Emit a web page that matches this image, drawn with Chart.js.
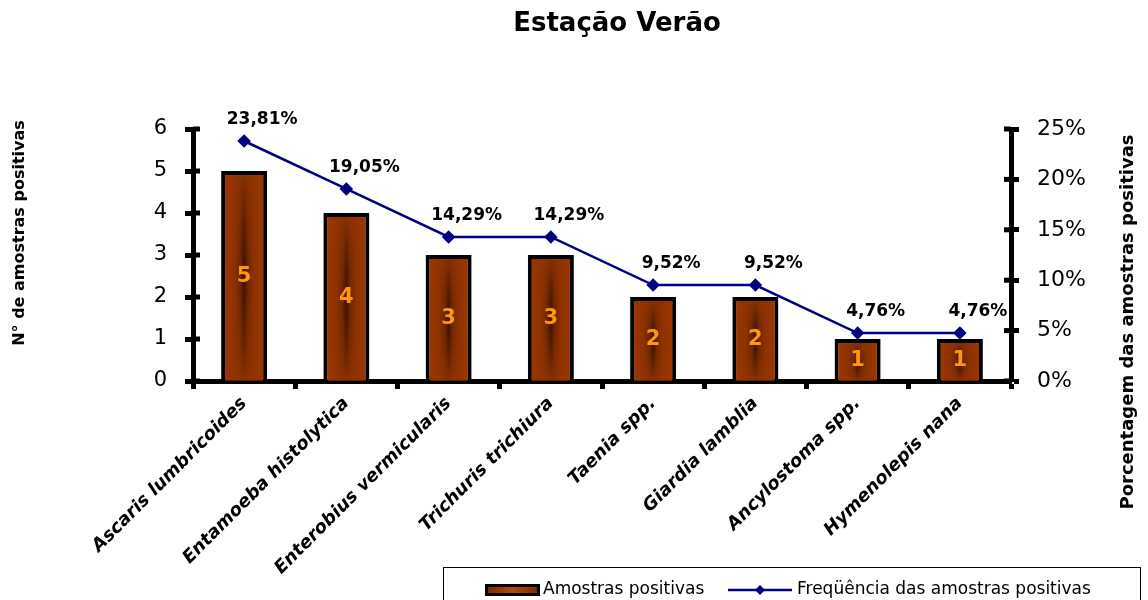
<!DOCTYPE html>
<html>
<head>
<meta charset="utf-8">
<script src="https://cdn.jsdelivr.net/npm/chart.js@4.4.1/dist/chart.umd.min.js"></script>
<style>
  body { margin: 0; background: #fff; }
  #wrap { width: 1148px; height: 600px; }
</style>
</head>
<body>
<div id="wrap"><canvas id="myChart" width="1148" height="600"></canvas></div>
<script>
var chartTitle = 'Estação Verão';
var leftTitle = 'N° de amostras positivas';
var rightTitle = 'Porcentagem das amostras positivas';

var categories = ['Ascaris lumbricoides', 'Entamoeba histolytica', 'Enterobius vermicularis',
    'Trichuris trichiura', 'Taenia spp.', 'Giardia lamblia', 'Ancylostoma spp.', 'Hymenolepis nana'];
var counts = [5, 4, 3, 3, 2, 2, 1, 1];
var percents = [23.81, 19.05, 14.29, 14.29, 9.52, 9.52, 4.76, 4.76];

var FONT = "'DejaVu Sans', sans-serif";
var NAVY = '#000080';

var fmtPct = function(v) {
    return v.toFixed(2).replace('.', ',') + '%';
};

// Excel-like "from center" fill inside the bar border
var paintBar = function(ctx, l, r, t, b) {
    var g = ctx.createLinearGradient(l, 0, r, 0);
    g.addColorStop(0, '#9a3600');
    g.addColorStop(0.5, '#863000');
    g.addColorStop(1, '#9a3600');
    ctx.fillStyle = g;
    ctx.fillRect(l, t, r - l, b - t);

    var mid = (t + b) / 2, half = (b - t) / 2;
    for (var yy = t; yy < b; yy += 2) {
        var dy = Math.abs((yy + 1 - mid) / half);
        var k = Math.max(0, 1 - Math.pow(dy, 1.3));
        var s = ctx.createLinearGradient(l, 0, r, 0);
        s.addColorStop(0, 'rgba(45,12,0,0)');
        s.addColorStop(0.25, 'rgba(45,12,0,' + (0.04 * k) + ')');
        s.addColorStop(0.4, 'rgba(45,12,0,' + (0.3 * k) + ')');
        s.addColorStop(0.5, 'rgba(45,12,0,' + (0.85 * k) + ')');
        s.addColorStop(0.6, 'rgba(45,12,0,' + (0.3 * k) + ')');
        s.addColorStop(0.75, 'rgba(45,12,0,' + (0.04 * k) + ')');
        s.addColorStop(1, 'rgba(45,12,0,0)');
        ctx.fillStyle = s;
        ctx.fillRect(l, yy, r - l, Math.min(2, b - yy));
    }
};

var decor = {
    id: 'decor',
    afterDatasetDraw: function(chart, args) {
        if (args.index !== 0) return;
        var ctx = chart.ctx;
        ctx.save();
        chart.getDatasetMeta(0).data.forEach(function(el) {
            var p = el.getProps(['x', 'y', 'base', 'width'], true);
            var bw = 4;
            paintBar(ctx, p.x - p.width / 2 + bw, p.x + p.width / 2 - bw, p.y + bw, p.base);
        });
        ctx.restore();
    },
    afterDraw: function(chart) {
        var ctx = chart.ctx;
        var area = chart.chartArea;
        ctx.save();

        // inner half of the cross ticks on both value axes
        ctx.fillStyle = '#000';
        chart.scales.y.ticks.forEach(function(t) {
            var py = chart.scales.y.getPixelForValue(t.value);
            ctx.fillRect(area.left, py - 2.5, 7, 5);
        });
        chart.scales.y1.ticks.forEach(function(t) {
            var py = chart.scales.y1.getPixelForValue(t.value);
            ctx.fillRect(area.right - 7, py - 2.5, 7, 5);
        });

        // values inside the bars
        ctx.font = 'bold 21px ' + FONT;
        ctx.fillStyle = '#ff9900';
        ctx.textAlign = 'center';
        ctx.textBaseline = 'middle';
        chart.getDatasetMeta(0).data.forEach(function(el, i) {
            var p = el.getProps(['x', 'y', 'base'], true);
            ctx.fillText(String(counts[i]), p.x, (p.y + p.base) / 2 + 1);
        });

        // percentage labels of the line
        ctx.font = 'bold 17px ' + FONT;
        ctx.fillStyle = '#000';
        chart.getDatasetMeta(1).data.forEach(function(pt, i) {
            ctx.fillText(fmtPct(percents[i]), pt.x + 18, pt.y - 21);
        });

        // chart title
        ctx.font = 'bold 26px ' + FONT;
        ctx.textBaseline = 'alphabetic';
        ctx.fillText(chartTitle, 617, 31);

        // axis titles
        ctx.textBaseline = 'middle';
        ctx.font = 'bold 16px ' + FONT;
        ctx.save();
        ctx.translate(20, 233);
        ctx.rotate(-Math.PI / 2);
        ctx.fillText(leftTitle, 0, 0);
        ctx.restore();
        ctx.font = 'bold 18px ' + FONT;
        ctx.save();
        ctx.translate(1128, 322);
        ctx.rotate(-Math.PI / 2);
        ctx.fillText(rightTitle, 0, 0);
        ctx.restore();

        // legend box
        ctx.strokeStyle = '#000';
        ctx.lineWidth = 1;
        ctx.strokeRect(443.5, 567.5, 697, 60);
        ctx.fillStyle = '#000';
        ctx.fillRect(485, 584, 55, 12);
        var lg = ctx.createLinearGradient(488, 0, 537, 0);
        lg.addColorStop(0, '#7e2b00');
        lg.addColorStop(0.5, '#b04a10');
        lg.addColorStop(1, '#7e2b00');
        ctx.fillStyle = lg;
        ctx.fillRect(488, 587, 49, 6);

        ctx.strokeStyle = NAVY;
        ctx.lineWidth = 2.5;
        ctx.beginPath();
        ctx.moveTo(728, 590);
        ctx.lineTo(792, 590);
        ctx.stroke();
        ctx.fillStyle = NAVY;
        ctx.beginPath();
        ctx.moveTo(760, 585);
        ctx.lineTo(765, 590);
        ctx.lineTo(760, 595);
        ctx.lineTo(755, 590);
        ctx.closePath();
        ctx.fill();

        ctx.font = '17px ' + FONT;
        ctx.fillStyle = '#000';
        ctx.textAlign = 'left';
        ctx.fillText(chart.data.datasets[0].label, 543, 590);
        ctx.fillText(chart.data.datasets[1].label, 797, 590);

        ctx.restore();
    }
};

var axisGrid = {
    drawOnChartArea: false,
    color: '#000',
    tickColor: '#000',
    tickWidth: 5,
    tickLength: 8
};

var config = {
    type: 'bar',
    data: {
        labels: categories,
        datasets: [{
            type: 'bar',
            label: 'Amostras positivas',
            data: counts,
            yAxisID: 'y',
            backgroundColor: '#993300',
            borderColor: '#000',
            borderWidth: 4,
            categoryPercentage: 1,
            barPercentage: 0.45,
            order: 1
        }, {
            type: 'line',
            label: 'Freqüência das amostras positivas',
            data: percents,
            yAxisID: 'y1',
            borderColor: NAVY,
            backgroundColor: NAVY,
            borderWidth: 2.5,
            pointStyle: 'rectRot',
            pointRadius: 5,
            pointBackgroundColor: NAVY,
            pointBorderColor: NAVY,
            tension: 0,
            order: 0
        }]
    },
    options: {
        responsive: false,
        animation: false,
        layout: { padding: { top: 129, left: 0, right: 0, bottom: 0 } },
        plugins: {
            legend: { display: false },
            title: { display: false },
            tooltip: { enabled: false }
        },
        scales: {
            x: {
                grid: axisGrid,
                border: { color: '#000', width: 5 },
                ticks: {
                    color: '#000',
                    autoSkip: false,
                    minRotation: 45,
                    maxRotation: 45,
                    padding: 4,
                    font: { family: FONT, size: 18, weight: 'bold', style: 'italic' }
                },
                afterFit: function(scale) { scale.height = 219; }
            },
            y: {
                position: 'left',
                min: 0,
                max: 6,
                grid: axisGrid,
                border: { color: '#000', width: 5 },
                ticks: {
                    stepSize: 1,
                    color: '#000',
                    padding: 18,
                    font: { family: FONT, size: 21 }
                },
                afterFit: function(scale) { scale.width = 193; }
            },
            y1: {
                position: 'right',
                min: 0,
                max: 25,
                grid: axisGrid,
                border: { color: '#000', width: 5 },
                ticks: {
                    stepSize: 5,
                    color: '#000',
                    padding: 18,
                    font: { family: FONT, size: 22 },
                    callback: function(v) { return v + '%'; }
                },
                afterFit: function(scale) { scale.width = 137; }
            }
        }
    },
    plugins: [decor]
};

var myChart = new Chart(document.getElementById('myChart').getContext('2d'), config);
</script>
</body>
</html>
